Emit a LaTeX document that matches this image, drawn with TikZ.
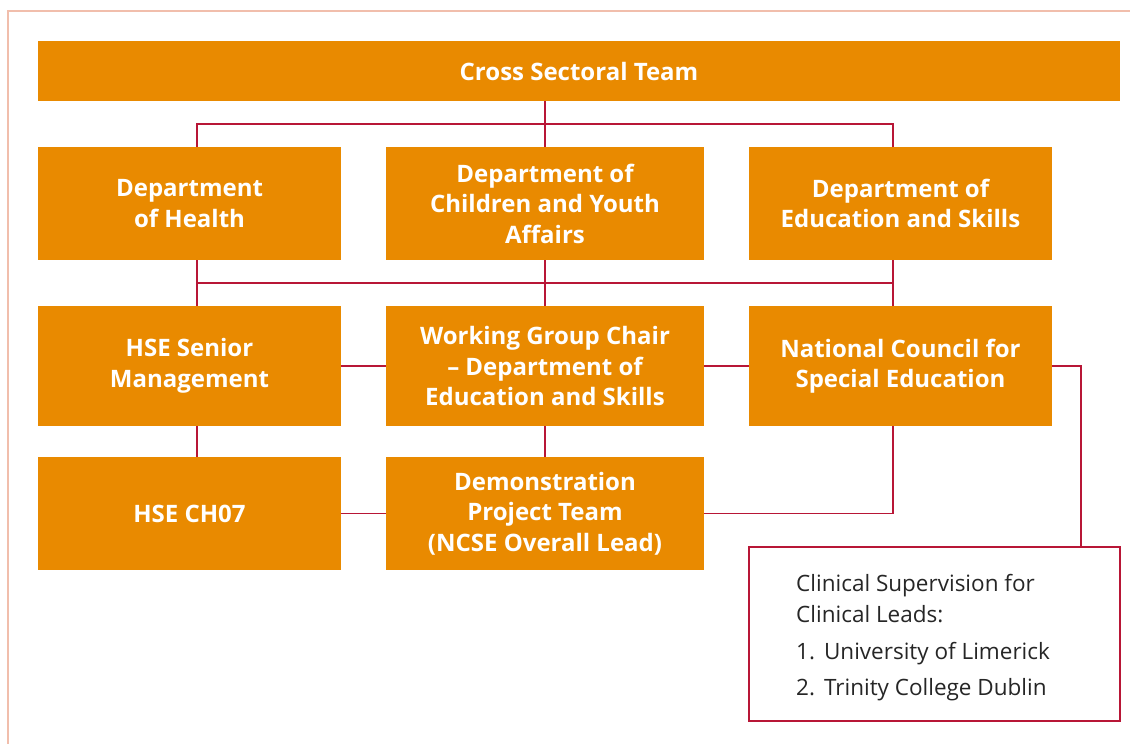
\documentclass[tikz,border=0pt]{standalone}
\usepackage{fontspec}
\setmainfont{Open Sans}
\usetikzlibrary{calc}

\definecolor{boxorange}{RGB}{233,138,0}
\definecolor{linkred}{RGB}{184,22,54}
\definecolor{framepink}{RGB}{241,190,172}

\tikzset{
  unit/.style={fill=boxorange, text=white, font=\bfseries\fontsize{24}{30.5}\selectfont,
    align=center, inner sep=0pt, minimum height=113pt},
  link/.style={draw=linkred, line width=1.4pt},
}

\begin{document}
\begin{tikzpicture}[x=1pt,y=-1pt]
\useasboundingbox (0,0) rectangle (1130,744);
\fill[white] (0,0) rectangle (1130,744);

% outer frame, only top and left show
\draw[framepink, line width=1.2pt] (8,744) -- (8,11) -- (1130,11);

% draw nodes
\node[unit, minimum width=1082pt, minimum height=60pt] (cst) at (579,71) {Cross Sectoral Team};

\node[unit, minimum width=303pt] (doh)  at (189.5,203.5) {Department\\of Health};
\node[unit, minimum width=318pt] (dcya) at (545,203.5) {Department of\\Children and Youth\\Affairs};
\node[unit, minimum width=303pt] (des)  at (900.5,203.5) {Department of\\Education and Skills};

\node[unit, minimum width=303pt, minimum height=120pt] (hse)  at (189.5,366) {HSE Senior\\Management};
\node[unit, minimum width=318pt, minimum height=120pt] (wgc)  at (545,366) {Working Group Chair\\– Department of\\Education and Skills};
\node[unit, minimum width=303pt, minimum height=120pt] (ncse) at (900.5,366) {National Council for\\Special Education};

\node[unit, minimum width=303pt] (ch07) at (189.5,513.5) {HSE CH07};
\node[unit, minimum width=318pt] (dpt)  at (545,513.5) {Demonstration\\Project Team\\(NCSE Overall Lead)};

\node[draw=linkred, line width=1.4pt, minimum width=371pt, minimum height=174pt, inner sep=0pt] (csup) at (934.5,634) {};
\node[anchor=north west, align=left, inner sep=0pt, text=black!85,
  font=\fontsize{22.5}{31}\selectfont] (csuptxt) at (796,574)
  {Clinical Supervision for\\Clinical Leads:\\[6pt]
   1.\hspace{9pt}University of Limerick\\[5pt]
   2.\hspace{9pt}Trinity College Dublin};

% connector columns and bus levels
\coordinate (c1) at (197,0);
\coordinate (c3) at (893,0);
\coordinate (c4) at (1081,0);
\coordinate (busA) at (0,124);
\coordinate (busB) at (0,283);

% draw connectors
\draw[link] (dcya.north) -- (dcya.north |- cst.south);
\draw[link] (doh.north -| c1) |- (busA -| c3) -- (des.north -| c3);
\draw[link] (doh.south -| c1) -- (hse.north -| c1);
\draw[link] (des.south -| c3) -- (ncse.north -| c3);
\draw[link] (busB -| c1) -- (busB -| c3);
\draw[link] (dcya.south) -- (wgc.north);
\draw[link] (hse) -- (wgc);
\draw[link] (wgc) -- (ncse);
\draw[link] (ncse.east) -- (ncse.east -| c4) -- (csup.north -| c4);
\draw[link] (hse.south -| c1) -- (ch07.north -| c1);
\draw[link] (wgc.south) -- (dpt.north);
\draw[link] (ch07) -- (dpt);
\draw[link] (dpt.east) -- (dpt.east -| c3) -- (ncse.south -| c3);

\end{tikzpicture}
\end{document}
